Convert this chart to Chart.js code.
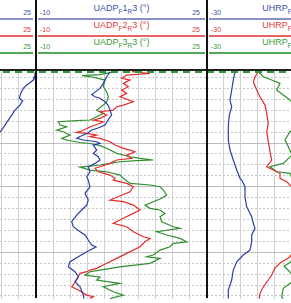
<!DOCTYPE html>
<html>
<head>
<meta charset="utf-8">
<script src="https://cdn.jsdelivr.net/npm/chart.js@4.4.0/dist/chart.umd.min.js"></script>
<style>
  html, body { margin: 0; padding: 0; background: #fff; }
  body { width: 291px; height: 303px; overflow: hidden; position: relative; font-family: "Liberation Sans", Arial, sans-serif; }
  .abs { position: absolute; }
  canvas { display: block; }
  .num { position: absolute; font-size: 7px; line-height: 7px; white-space: nowrap; }
  .lbl { position: absolute; font-size: 9px; line-height: 9px; white-space: nowrap; text-align: center; }
  .lbl sub { font-size: 6.5px; vertical-align: -2.5px; line-height: 0; }
  .uline { position: absolute; height: 2px; }
</style>
</head>
<body>
<div id="header"></div>
<canvas id="track1" class="abs" style="left:0;top:71px" width="36" height="228"></canvas>
<canvas id="track2" class="abs" style="left:36px;top:71px" width="171" height="228"></canvas>
<canvas id="track3" class="abs" style="left:207px;top:71px" width="84" height="228"></canvas>
<div class="abs" style="left:0;top:69px;width:291px;height:2px;background:#222"></div>
<div class="abs" style="left:0;top:71px;width:291px;height:2px;background:repeating-linear-gradient(to right, transparent 0 3px, #35953a 3px 10px, transparent 10px 12px)"></div>
<div class="abs" style="left:35px;top:0;width:2px;height:298px;background:#111"></div>
<div class="abs" style="left:206px;top:0;width:2px;height:298px;background:#111"></div>
<script>
// depth axis (grid line every 1 unit, solid ones at the major depths)
const depthTop = 0.4;
const depthBottom = 21.28;
const gridDepths = [1, 2, 3, 4, 5, 6, 7, 8, 9, 10, 11, 12, 13, 14, 15, 16, 17, 18, 19, 20, 21];
const majorDepths = [7, 11, 17];

// scales of the tracks
const track1Max = 25;
const track2Min = -10, track2Max = 25;
const track3Min = -30, track3Max = 30;
const curveNames = ['1', '2', '3'];
const curveColors = ['#2c3ea6', '#e62a2a', '#2f8f2f'];
const textColors = ['#3f4fa8', '#e23a3a', '#3a983a'];
const lineColors = ['#8a90cc', '#e86464', '#55a855'];

// track 1 (only its right edge is visible)
const t1Depth = [0.55, 0.77, 1.23, 1.48, 1.69, 1.99, 2.45, 2.9, 3.12, 3.52, 3.98, 4.44, 4.9, 5.5, 5.8, 6.1];
const t1Blue  = [24.9, 24.8, 24.45, 23.77, 23.1, 22.4, 21.87, 21.58, 22.28, 21.72, 20.7, 20.02, 19.33, 18.45, 17.98, 17.4];

// track 2: UADP F1R3, F2R3, F3R3
const uadp1Depth = [0.47, 0.93, 1.53, 1.99, 2.45, 2.56, 2.76, 2.9, 3.22, 3.52, 3.98, 4.43, 4.89, 5.35, 5.62, 5.8, 6.08, 6.4, 6.57, 6.72, 6.88, 7.03, 7.19, 7.64, 7.94, 8.25, 8.55, 8.86, 9.17, 9.63, 10.08, 10.39, 11.0, 11.6, 12.22, 12.68, 13.13, 13.59, 14.2, 14.66, 15.12, 15.42, 15.88, 16.34, 16.52, 16.95, 17.41, 17.87, 18.33, 18.78, 19.24, 19.7, 20.16, 20.92, 21.24];
const uadp1Value = [5.15, 4.47, 3.77, 3.1, 1.73, 1.4, 2.08, 3.1, 4.12, 4.74, 5.15, 5.49, 4.74, 4.12, 2.69, 1.4, 0.64, -0.99, -1.67, -0.32, 2.42, 3.1, 1.73, 2.42, 1.73, 2.75, 3.1, 2.08, 0.7, 1.05, 0.38, 0.7, 1.05, 0.03, 0.7, 0.38, -0.65, -1.67, -2.69, -2.37, -0.99, 0.03, 0.7, 1.4, 2.28, 0.38, -1.34, -3.04, -3.39, -2.02, -1.34, -2.02, -0.99, -0.32, -0.17];

const uadp2Depth = [0.45, 0.63, 0.77, 1.07, 1.23, 1.53, 1.84, 2.14, 2.45, 2.76, 3.22, 3.52, 3.67, 3.98, 4.13, 4.43, 4.74, 4.89, 5.05, 5.19, 5.53, 5.9, 6.02, 6.11, 6.27, 6.42, 6.57, 6.88, 7.18, 7.48, 7.64, 7.79, 8.1, 8.4, 8.55, 8.86, 9.17, 9.31, 9.63, 9.93, 10.23, 10.39, 10.69, 11.0, 11.46, 12.22, 12.37, 12.68, 13.13, 13.44, 13.89, 14.35, 14.66, 15.12, 15.58, 15.73, 16.04, 16.49, 17.1, 17.56, 18.01, 18.47, 18.63, 18.78, 18.93, 19.54, 20.16, 20.46, 20.92, 21.07, 21.24];
const uadp2Value = [9.65, 13.33, 8.56, 7.54, 9.24, 7.87, 8.89, 7.54, 8.56, 7.19, 9.92, 7.87, 6.52, 5.82, 3.1, 4.47, 3.1, 1.73, 3.77, 3.1, 1.05, -0.65, -1.67, 0.38, 2.42, 1.05, 3.1, 5.15, 6.17, 7.87, 9.24, 10.26, 8.56, 9.59, 6.52, 5.15, 3.1, 2.08, 2.75, 5.15, 6.17, 5.82, 8.56, 9.92, 9.24, 5.15, 7.87, 9.92, 11.29, 9.92, 7.87, 5.82, 8.56, 9.92, 11.96, 13.33, 12.31, 11.29, 8.56, 6.52, 4.47, 2.42, 1.05, 0.38, -0.99, -1.67, -2.69, -1.34, 0.38, 1.73, 1.05];

const uadp3Depth = [0.5, 0.73, 0.82, 0.95, 1.23, 1.84, 2.3, 2.76, 3.22, 3.52, 3.98, 4.28, 4.59, 4.89, 4.94, 5.05, 5.35, 5.51, 5.81, 5.96, 6.27, 6.57, 6.72, 6.95, 7.04, 7.23, 7.48, 7.94, 8.25, 8.4, 8.55, 8.6, 8.71, 8.86, 9.01, 9.12, 9.2, 9.47, 9.63, 9.93, 10.23, 10.69, 10.84, 11.0, 11.3, 11.76, 12.06, 12.37, 12.68, 12.98, 13.13, 13.44, 13.75, 14.2, 14.66, 14.81, 15.12, 15.42, 15.73, 16.04, 16.18, 16.49, 16.8, 17.25, 17.41, 17.56, 18.01, 18.33, 18.63, 18.78, 19.09, 19.27, 19.54, 19.85, 20.16, 20.62, 20.92, 21.24];
const uadp3Value = [5.76, 3.1, -0.58, 1.46, 4.12, 3.77, 4.47, 4.8, 4.47, 3.77, 2.42, 3.77, 2.42, 1.05, -1.67, -5.44, -5.09, -3.72, -5.76, -4.41, -3.04, -4.74, -3.72, -0.99, 1.05, 3.1, 4.47, 6.52, 9.24, 11.29, 14.01, 10.61, 7.19, 5.15, 3.1, 1.05, -0.99, 1.05, 4.47, 7.19, 7.87, 9.24, 13.33, 15.38, 16.06, 16.75, 15.73, 14.01, 12.31, 13.33, 15.38, 16.4, 15.38, 15.73, 18.1, 19.47, 14.71, 16.75, 19.47, 20.85, 18.1, 17.43, 15.38, 14.01, 12.66, 15.38, 13.33, 7.19, 3.1, 1.05, 0.03, 3.1, 2.42, 7.19, 3.77, 5.82, 7.87, 5.15];

// track 3: UHRP F1R3, F2R3, F3R3 (right part runs off the picture)
const uhrp1Depth = [0.47, 1.23, 2.14, 3.06, 3.67, 4.43, 5.51, 6.72, 7.64, 8.55, 9.47, 10.23, 10.39, 11.0, 11.92, 12.83, 13.75, 14.35, 14.81, 15.42, 16.04, 16.8, 17.25, 17.87, 18.63, 19.54, 20.46, 21.24];
const uhrp1Value = [-20, -20.61, -21.18, -21.79, -21.18, -22.04, -22.39, -22.39, -21.79, -20.61, -19.39, -18.21, -17.61, -16.43, -16.43, -15.82, -14.04, -13.46, -12.86, -14.04, -14.04, -14.64, -17.04, -19.39, -20.61, -21.18, -22.39, -22.39];

const uhrp2Depth = [0.47, 0.93, 1.38, 2.14, 2.76, 3.52, 4.28, 5.19, 5.96, 6.88, 7.79, 8.55, 9.17, 9.47, 9.77, 10.23, 10.54, 11.3, 14.05, 16.8, 17.44, 17.99, 18.44, 19.08, 19.54, 20.16, 20.76, 21.24];
const uhrp2Value = [-11.68, -12.86, -13.46, -12.25, -11.07, -9.29, -8.68, -8.11, -8.68, -8.11, -7.5, -6.89, -8.68, -6.32, -3.93, -3.93, -1.54, 1.43, 3.2, 0.9, -0.36, -3.93, -5.71, -6.89, -8.11, -9.89, -11.07, -11.32];

const uhrp3Depth = [0.47, 0.93, 1.23, 1.53, 2.14, 2.6, 3.06, 3.98, 5.35, 5.96, 6.72, 7.34, 8.1, 8.86, 9.17, 9.63, 9.77, 12.22, 15.88, 17.89, 18.26, 18.81, 19.54, 20.3, 21.07, 21.24];
const uhrp3Value = [-11.68, -9.89, -6.89, -3.93, -5.11, -2.75, -0.36, 3.2, 2.5, -0.36, -2.14, -0.96, 0.36, -2.75, -7.5, -5.11, -0.36, 3.2, 1.79, 0, -2.5, -0.36, 1.43, -2.75, -3.32, -2.86];

function series(depth, value, color) {
  return {
    data: depth.map((d, i) => ({ x: value[i], y: d })),
    borderColor: color,
    borderWidth: 1.2,
    pointRadius: 0,
    fill: false,
    tension: 0
  };
}

function isMajor(c) {
  return c.tick && majorDepths.includes(c.tick.value);
}

function makeTrack(id, xMin, xMax, xTicks, datasets) {
  return new Chart(document.getElementById(id), {
    type: 'line',
    data: { datasets: datasets },
    options: {
      responsive: false,
      animation: false,
      events: [],
      layout: { padding: 0 },
      plugins: { legend: { display: false }, tooltip: { enabled: false } },
      scales: {
        x: {
          type: 'linear', min: xMin, max: xMax,
          afterBuildTicks: s => { s.ticks = xTicks.map(v => ({ value: v })) },
          ticks: { display: false },
          grid: { color: '#d0d0d0', lineWidth: 1, drawTicks: false },
          border: { display: false }
        },
        y: {
          type: 'linear', reverse: true, min: depthTop, max: depthBottom,
          afterBuildTicks: s => { s.ticks = gridDepths.map(v => ({ value: v })) },
          ticks: { display: false },
          grid: { color: c => isMajor(c) ? '#bdbdbd' : '#c6c6c6', lineWidth: 1, drawTicks: false },
          border: { display: false, dash: c => isMajor(c) ? [] : [2, 2] }
        }
      }
    }
  });
}

// track 1: same width per unit as track 2, only the last 36px shown
const t1Min = track1Max - 36 / 171 * (track2Max - track2Min);
makeTrack('track1', t1Min, track1Max, [18, 21.5, 25], [series(t1Depth, t1Blue, curveColors[0])]);

const t2Ticks = [];
for (let i = 0; i <= 10; i++) t2Ticks.push(track2Min + i * 3.5);
makeTrack('track2', track2Min, track2Max, t2Ticks, [
  series(uadp1Depth, uadp1Value, curveColors[0]),
  series(uadp2Depth, uadp2Value, curveColors[1]),
  series(uadp3Depth, uadp3Value, curveColors[2])
]);

makeTrack('track3', track3Min, 0, [-30, -24, -18, -12, -6, 0], [
  series(uhrp1Depth, uhrp1Value, curveColors[0]),
  series(uhrp2Depth, uhrp2Value, curveColors[1]),
  series(uhrp3Depth, uhrp3Value, curveColors[2])
]);

// header rows
const header = document.getElementById('header');
curveNames.forEach((n, r) => {
  const top = r * 17.2;
  const col = textColors[r];
  let html = '';
  html += `<div class="num" style="left:0;width:31px;text-align:right;top:${top + 9}px;color:${col}">${track1Max}</div>`;
  html += `<div class="num" style="left:40px;top:${top + 9}px;color:${col}">${track2Min}</div>`;
  html += `<div class="num" style="left:150px;width:50px;text-align:right;top:${top + 9}px;color:${col}">${track2Max}</div>`;
  html += `<div class="num" style="left:211px;top:${top + 9}px;color:${col}">${track3Min}</div>`;
  html += `<div class="lbl" style="left:36px;width:171px;top:${top + 3.6}px;color:${col}">UADP<sub>F</sub>${n}<sub>R</sub>3 (°)</div>`;
  html += `<div class="lbl" style="left:207px;width:167px;top:${top + 3.6}px;color:${col}">UHRP<sub>F</sub>${n}<sub>R</sub>3 (°)</div>`;
  html += `<div class="uline" style="left:0;width:33px;top:${top + 18}px;background:${lineColors[r]}"></div>`;
  html += `<div class="uline" style="left:38px;width:167px;top:${top + 18}px;background:${lineColors[r]}"></div>`;
  html += `<div class="uline" style="left:209px;width:82px;top:${top + 18}px;background:${lineColors[r]}"></div>`;
  header.insertAdjacentHTML('beforeend', html);
});
</script>
</body>
</html>
